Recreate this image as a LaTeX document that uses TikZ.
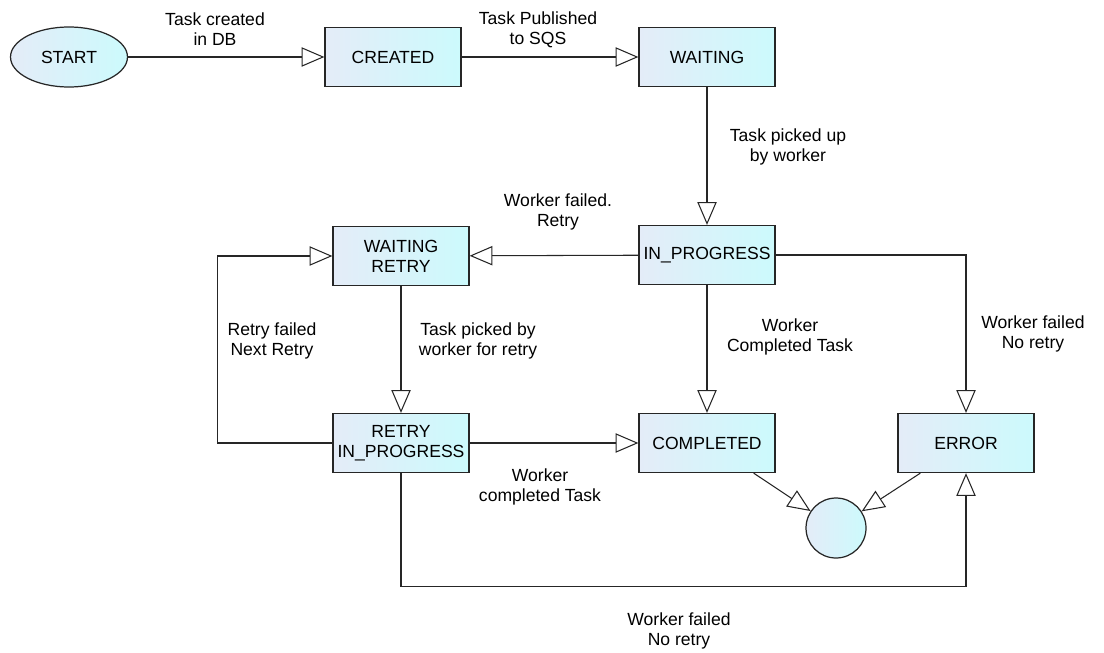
\documentclass[tikz,border=0pt]{standalone}
\usepackage{fontspec}
\setmainfont{Liberation Sans}
\usetikzlibrary{shapes,arrows.meta}

\definecolor{boxleft}{RGB}{228,236,248}
\definecolor{boxright}{RGB}{204,250,252}

\begin{document}
\begin{tikzpicture}[x=0.02cm,y=-0.02cm,
    font=\fontsize{10}{11.5}\selectfont,
    state/.style={draw=black!85,line width=0.7pt,left color=boxleft,right color=boxright,
        minimum width=2.72cm,minimum height=1.18cm,align=center,inner sep=1pt},
    startstate/.style={state,ellipse,minimum width=2.34cm,minimum height=1.2cm},
    finalstate/.style={state,circle,minimum width=1.2cm,minimum height=1.2cm},
    lbl/.style={align=center,inner sep=0pt},
    trans/.style={draw=black!85,line width=0.6pt,-{Triangle[open,length=13pt,width=11pt]}}]
    \useasboundingbox (0,0) rectangle (1104,652);

    % States
    \node[startstate] (start) at (69,57) {START};
    \node[state] (created) at (393,57) {CREATED};
    \node[state] (waiting) at (707,57) {WAITING};
    \node[state] (inprog) at (707,255) {IN\_PROGRESS};
    \node[state] (waitretry) at (401,256) {WAITING\\RETRY};
    \node[state] (retryprog) at (401,443) {RETRY\\IN\_PROGRESS};
    \node[state] (completed) at (707,443) {COMPLETED};
    \node[state] (error) at (966,443) {ERROR};
    \node[finalstate] (done) at (836,528) {};

    % Transitions
    \draw[trans] (start) -- (created);
    \draw[trans] (created) -- (waiting);
    \draw[trans] (waiting) -- (inprog);
    \draw[trans] (inprog) -- (waitretry);
    \draw[trans] (waitretry) -- (retryprog);
    \draw[trans] (retryprog.west) -- ++(-115,0) |- (waitretry.west);
    \draw[trans] (inprog) -- (completed);
    \draw[trans] (inprog.east) -| (error.north);
    \draw[trans] (retryprog) -- (completed);
    \draw[trans] (retryprog.south) -- ++(0,113) -| (error.south);
    \draw[trans] ([xshift=-0.44cm]completed.south east) -- (done);
    \draw[trans] ([xshift=0.46cm]error.south west) -- (done);

    % Labels
    \node[lbl] (lcreated) at (215,29) {Task created\\in DB};
    \node[lbl] (lpublished) at (538,30) {Task Published\\to SQS};
    \node[lbl] (lpicked) at (788,147) {Task picked up\\by worker};
    \node[lbl] (lfailretry) at (558,212) {Worker failed.\\Retry};
    \node[lbl] (lpickretry) at (478,341) {Task picked by\\worker for retry};
    \node[lbl] (lnextretry) at (272,341) {Retry failed\\Next Retry};
    \node[lbl] (ldone) at (790,337) {Worker\\Completed Task};
    \node[lbl] (lnoretry) at (1033,334) {Worker failed\\No retry};
    \node[lbl] (lretrydone) at (540,487) {Worker\\completed Task};
    \node[lbl] (lretryfail) at (679,631) {Worker failed\\No retry};
\end{tikzpicture}
\end{document}
